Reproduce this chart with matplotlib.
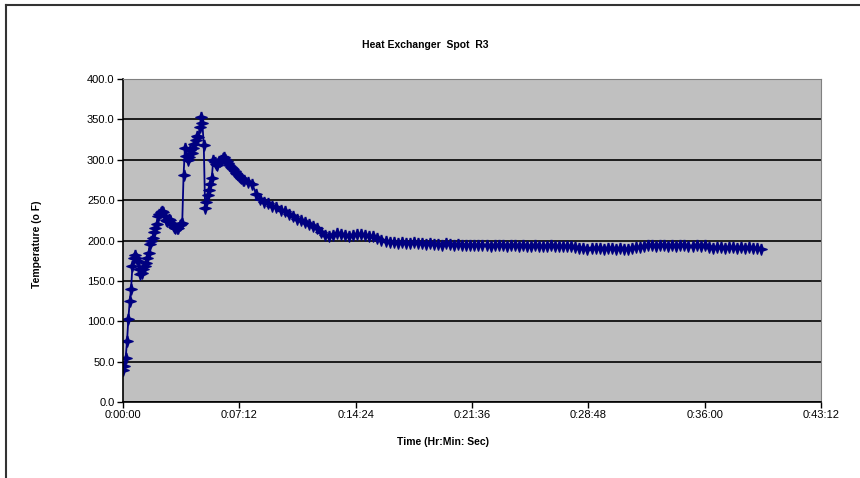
import numpy as np
import matplotlib
matplotlib.use("Agg")
import matplotlib.pyplot as plt
from matplotlib.ticker import FuncFormatter, MultipleLocator
from matplotlib.lines import Line2D

plt.rcParams['font.family'] = ['Liberation Sans', 'DejaVu Sans']

# readings every 5 s for the first part of the run (deg F)
step_early = 5
temp_early = [40, 45, 55, 75, 103, 125, 140, 168, 178, 182,
              178, 174, 165, 158, 160, 165, 168, 172, 178, 185,
              196, 199, 203, 210, 216, 221, 230, 233, 235, 236,
              235, 230, 226, 224, 227, 226, 222, 219, 217, 216,
              215, 216, 219, 221, 222, 281, 314, 305, 300, 304,
              312, 308, 315, 320, 324, 330, 328, 340, 353, 345,
              318, 240, 248, 256, 263, 270, 278, 300, 297, 295,
              293, 298, 299, 300, 302, 303, 301, 298, 296, 293,
              291, 290, 288, 286, 284, 282, 280, 279, 277, 275]

# readings every 15 s afterwards, starting at 450 s
step_late = 15
start_late = 450
temp_late = [275, 273, 270, 257, 252, 248, 246, 243, 241, 238,
             236, 233, 230, 227, 225, 223, 221, 218, 215, 211,
             207, 205, 207, 209, 208, 207, 206, 207, 208, 208,
             207, 206, 205, 203, 201, 200, 198, 198, 197, 198,
             197, 197, 198, 197, 197, 196, 197, 196, 196, 195,
             197, 196, 195, 196, 195, 195, 194, 194, 195, 194,
             194, 193, 194, 194, 194, 193, 194, 194, 193, 194,
             193, 193, 194, 193, 193, 193, 194, 193, 193, 193,
             193, 193, 192, 191, 191, 190, 191, 191, 191, 190,
             191, 191, 190, 191, 190, 190, 191, 192, 192, 193,
             194, 194, 193, 194, 194, 193, 194, 193, 194, 194,
             193, 193, 194, 193, 195, 192, 191, 192, 192, 191,
             192, 192, 191, 192, 191, 192, 191, 191, 190]

t_early = np.arange(len(temp_early)) * step_early
t_late = start_late + np.arange(len(temp_late)) * step_late
t = np.concatenate([t_early, t_late])
temp = np.array(temp_early + temp_late)


def hms(x, pos):
    x = int(round(x))
    return "%d:%02d:%02d" % (x // 3600, (x % 3600) // 60, x % 60)


fig = plt.figure(figsize=(8.6, 4.78), dpi=100)
ax = fig.add_axes([0.143, 0.159, 0.8116, 0.6757])
ax.set_facecolor('#C0C0C0')

star = [(0, 1), (0.25, 0.25), (1, 0), (0.25, -0.25), (0, -1),
        (-0.25, -0.25), (-1, 0), (-0.25, 0.25), (0, 1)]
ax.plot(t, temp, color='#000080', lw=1.3, marker=star, markersize=8,
        markeredgewidth=1.1, markeredgecolor='#000080', markerfacecolor='#000080')

ax.set_xlim(0, 2592)
ax.set_ylim(0, 400)
ax.xaxis.set_major_locator(MultipleLocator(432))
ax.xaxis.set_major_formatter(FuncFormatter(hms))
ax.yaxis.set_major_locator(MultipleLocator(50))
ax.yaxis.set_major_formatter(FuncFormatter(lambda v, p: "%.1f" % v))
ax.grid(axis='y', color='black', lw=1.2)
ax.set_axisbelow(True)
ax.tick_params(labelsize=8, length=4, width=1, pad=2)

for s in ['top', 'right']:
    ax.spines[s].set_color('#808080')
for s in ['left', 'bottom']:
    ax.spines[s].set_linewidth(1.2)

fig.text(0.495, 0.905, "Heat Exchanger  Spot  R3", ha='center', va='center',
         fontsize=7.5, fontweight='bold')
fig.text(0.515, 0.075, "Time (Hr:Min: Sec)", ha='center', va='center',
         fontsize=7.5, fontweight='bold')
fig.text(0.043, 0.49, "Temperature (o F)", ha='center', va='center',
         rotation=90, fontsize=7.5, fontweight='bold')

# chart area border (extends past the right and bottom edges)
fig.add_artist(Line2D([6 / 860, 6 / 860], [0, 1 - 5 / 478], color='#333333', lw=1.5))
fig.add_artist(Line2D([6 / 860, 1], [1 - 5 / 478, 1 - 5 / 478], color='#333333', lw=1.5))

fig.savefig("out.png", dpi=100)
